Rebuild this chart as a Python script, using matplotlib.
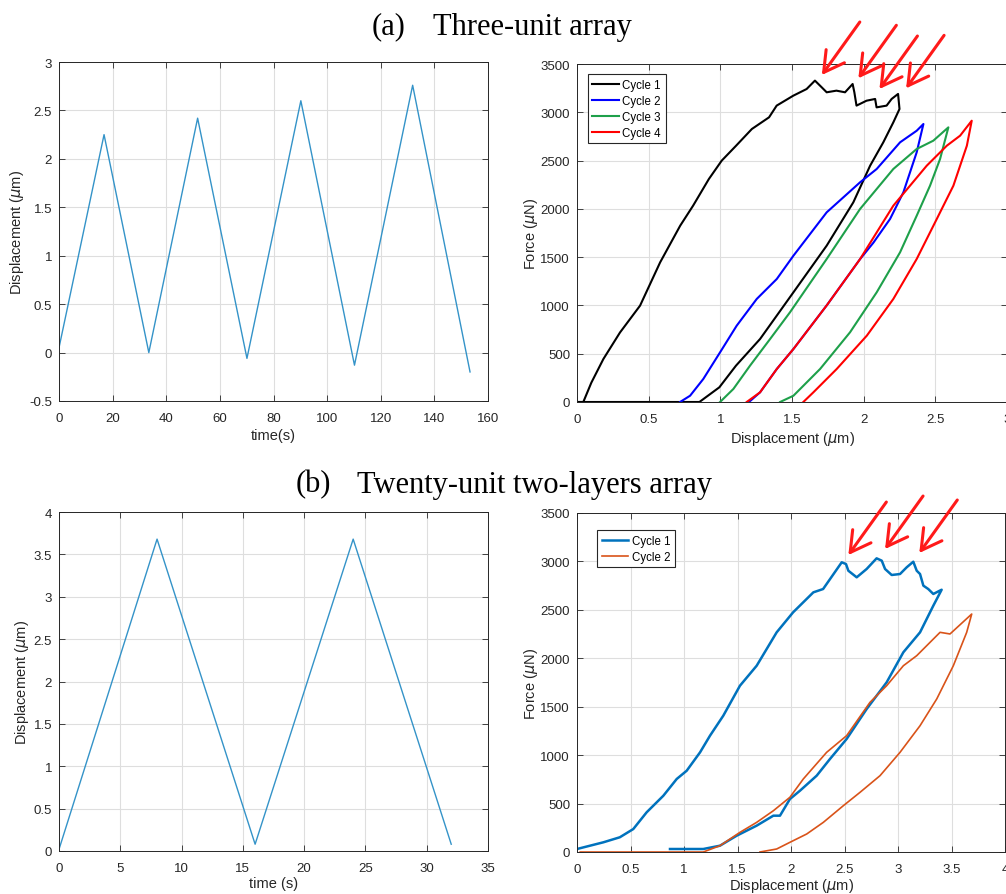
import matplotlib.pyplot as plt

# -----------------------------
# Data
# -----------------------------
# (a) displacement history, three-unit array
t_a = [0, 16.8, 33.5, 51.7, 70.1, 90.2, 110.2, 131.9, 153.3]
d_a = [0.05, 2.25, 0.0, 2.42, -0.06, 2.60, -0.13, 2.76, -0.20]

# (a) force-displacement loops
a_c1_x = [0.0, 0.044, 0.10, 0.184, 0.30, 0.44, 0.58, 0.72, 0.81, 0.92, 1.01, 1.11,
          1.22, 1.34, 1.393, 1.509, 1.602, 1.66, 1.707, 1.742, 1.81, 1.87, 1.923,
          1.935, 1.95, 2.02, 2.08, 2.09, 2.16, 2.195, 2.24, 2.25,
          2.207, 2.137, 2.045, 1.928, 1.742, 1.51, 1.277, 1.109, 0.993, 0.854, 0.40, 0.0]
a_c1_f = [0, 0, 200, 445, 720, 998, 1446, 1826, 2033, 2309, 2500, 2654,
          2827, 2948, 3069, 3172, 3241, 3328, 3259, 3207, 3224, 3207, 3293,
          3207, 3069, 3120, 3138, 3051, 3069, 3138, 3190, 3034,
          2896, 2689, 2447, 2068, 1619, 1136, 652, 376, 152, 0, 0, 0]

a_c2_x = [0.719, 0.789, 0.881, 0.998, 1.114, 1.254, 1.394, 1.51, 1.742, 1.975, 2.091,
          2.254, 2.37, 2.417,
          2.37, 2.277, 2.184, 2.068, 1.975, 1.742, 1.51, 1.394, 1.277, 1.20]
a_c2_f = [0, 65, 238, 514, 790, 1067, 1274, 1515, 1964, 2275, 2413,
          2689, 2809, 2879,
          2586, 2171, 1895, 1650, 1480, 1000, 549, 342, 100, 0]

a_c3_x = [0.998, 1.091, 1.207, 1.347, 1.486, 1.742, 1.975, 2.207, 2.37, 2.486, 2.591,
          2.533, 2.463, 2.37, 2.254, 2.091, 1.905, 1.696, 1.51, 1.417]
a_c3_f = [0, 135, 376, 652, 929, 1481, 1999, 2413, 2620, 2706, 2844,
          2516, 2240, 1929, 1550, 1136, 722, 342, 65, 0]

a_c4_x = [1.184, 1.277, 1.394, 1.51, 1.742, 1.975, 2.207, 2.44, 2.58, 2.673, 2.754,
          2.72, 2.626, 2.51, 2.37, 2.207, 2.022, 1.812, 1.649, 1.579]
a_c4_f = [0, 100, 342, 549, 1000, 1480, 2033, 2447, 2654, 2758, 2913,
          2654, 2240, 1895, 1481, 1067, 687, 342, 100, 0]

# arrow tips on the cycle 1 load drops, panel (a)
a_arrow_x = [1.708, 1.963, 2.110, 2.296]
a_arrow_f = [3386, 3352, 3241, 3248]

# (b) displacement history, twenty-unit two-layers array
t_b = [0, 8, 16, 24, 32]
d_b = [0.02, 3.68, 0.08, 3.68, 0.08]

# (b) force-displacement loops
b_c1_x = [0.0, 0.246, 0.40, 0.526, 0.651, 0.807, 0.932, 1.025, 1.15, 1.243, 1.367,
          1.523, 1.679, 1.866, 2.02, 2.209, 2.30, 2.474, 2.514, 2.536, 2.614, 2.707,
          2.80, 2.848, 2.879, 2.941, 3.019, 3.081, 3.143, 3.175, 3.206, 3.237, 3.283,
          3.33, 3.408,
          3.33, 3.206, 3.05, 2.894, 2.707, 2.52, 2.364, 2.24, 2.084, 1.99, 1.897,
          1.835, 1.679, 1.492, 1.336, 1.18, 0.869]
b_c1_f = [31, 100, 152, 237, 410, 581, 754, 839, 1029, 1201, 1407,
          1717, 1923, 2268, 2475, 2681, 2715, 2991, 2973, 2904, 2836, 2922,
          3032, 3008, 2922, 2860, 2870, 2939, 2997, 2904, 2870, 2750, 2715,
          2664, 2708,
          2543, 2268, 2062, 1752, 1476, 1167, 960, 788, 633, 547, 375,
          375, 272, 168, 65, 31, 31]

b_c2_x = [0.03, 1.18, 1.336, 1.523, 1.679, 1.835, 1.99, 2.115, 2.333, 2.52, 2.738,
          2.894, 3.05, 3.175, 3.393, 3.486, 3.689,
          3.642, 3.517, 3.362, 3.206, 3.019, 2.832, 2.645, 2.489, 2.302, 2.147,
          1.99, 1.866, 1.71]
b_c2_f = [0, 0, 65, 203, 306, 426, 565, 754, 1029, 1201, 1545,
          1717, 1923, 2027, 2268, 2251, 2457,
          2268, 1923, 1580, 1304, 1029, 788, 616, 478, 306, 186,
          100, 31, 0]

# arrow tips on the cycle 1 load drops, panel (b)
b_arrow_x = [2.536, 2.879, 3.199]
b_arrow_f = [3066, 3128, 3087]

# -----------------------------
# Styling
# -----------------------------
plt.rcParams["font.family"] = ["Liberation Sans", "DejaVu Sans"]
TXT = "#262626"
GRID = "#dedede"
W, H = 1006, 895


def matlab_axes(ax, xlim, ylim, xticks, yticks):
    # MATLAB-like box, inward ticks on all sides, light grid
    ax.set_xlim(xlim)
    ax.set_ylim(ylim)
    ax.set_xticks(xticks)
    ax.set_yticks(yticks)
    ax.set_xticklabels([f"{v:g}" for v in xticks])
    ax.set_yticklabels([f"{v:g}" for v in yticks])
    ax.grid(True, color=GRID, linewidth=0.8)
    ax.set_axisbelow(True)
    ax.tick_params(direction="in", top=True, right=True, length=4,
                   width=0.6, colors=TXT, labelsize=9.5)
    ax.tick_params(axis="x", pad=8)
    ax.tick_params(axis="y", pad=5)
    for s in ax.spines.values():
        s.set_color(TXT)
        s.set_linewidth(0.7)


def px_axes(fig, x0, y0, x1, y1):
    # axes placed from pixel box (left, top, right, bottom)
    return fig.add_axes([x0 / W, 1 - y1 / H, (x1 - x0) / W, (y1 - y0) / H])


def add_arrows(ax, xs, fs):
    for x, f in zip(xs, fs):
        ax.annotate("", xy=(x, f), xytext=(38, 53), textcoords="offset pixels",
                    annotation_clip=False,
                    arrowprops=dict(arrowstyle="->, head_length=0.8, head_width=0.45",
                                    color="#ff1a1a", lw=2.2, mutation_scale=18,
                                    shrinkA=0, shrinkB=0))


def cycle_legend(ax, anchor):
    leg = ax.legend(loc="upper left", bbox_to_anchor=anchor, borderaxespad=0,
                    fontsize=8.3, handlelength=2.3, fancybox=False, framealpha=1,
                    edgecolor=TXT, labelspacing=0.35, handletextpad=0.3,
                    borderpad=0.4)
    leg.get_frame().set_linewidth(0.8)


fig = plt.figure(figsize=(W / 100, H / 100), dpi=100)

serif = ["Liberation Serif", "DejaVu Serif"]
fig.text(372 / W, 1 - 27 / H, "(a)", family=serif, fontsize=22, va="center", ha="left")
fig.text(433 / W, 1 - 27 / H, "Three-unit array", family=serif, fontsize=22,
         va="center", ha="left")
fig.text(296 / W, 1 - 485 / H, "(b)", family=serif, fontsize=22, va="center", ha="left")
fig.text(357 / W, 1 - 485 / H, "Twenty-unit two-layers array", family=serif,
         fontsize=22, va="center", ha="left")

label_kw = dict(fontsize=10.5, color=TXT)

# (a) left: displacement vs time
ax = px_axes(fig, 59, 63, 488, 402)
ax.plot(t_a, d_a, color="#3493c8", lw=1.0)
matlab_axes(ax, (0, 160), (-0.5, 3), list(range(0, 161, 20)),
            [-0.5, 0, 0.5, 1, 1.5, 2, 2.5, 3])
ax.set_xlabel("time(s)", labelpad=3, **label_kw)
ax.set_ylabel(r"Displacement ($\mu$m)", labelpad=2, **label_kw)

# (a) right: force vs displacement
ax = px_axes(fig, 577, 65, 1007, 403)
ax.plot(a_c1_x, a_c1_f, color="black", lw=1.5, label="Cycle 1")
ax.plot(a_c2_x, a_c2_f, color="#0000ff", lw=1.5, label="Cycle 2")
ax.plot(a_c3_x, a_c3_f, color="#1ea04a", lw=1.5, label="Cycle 3")
ax.plot(a_c4_x, a_c4_f, color="#ff0000", lw=1.5, label="Cycle 4")
matlab_axes(ax, (0, 3), (0, 3500), [0, 0.5, 1, 1.5, 2, 2.5, 3],
            list(range(0, 3501, 500)))
ax.set_xlabel(r"Displacement ($\mu$m)", labelpad=3, **label_kw)
ax.set_ylabel(r"Force ($\mu$N)", labelpad=0.5, **label_kw)
cycle_legend(ax, (0.025, 0.97))
add_arrows(ax, a_arrow_x, a_arrow_f)

# (b) left: displacement vs time
ax = px_axes(fig, 59, 513, 488, 852)
ax.plot(t_b, d_b, color="#3493c8", lw=1.0)
matlab_axes(ax, (0, 35), (0, 4), list(range(0, 36, 5)),
            [0, 0.5, 1, 1.5, 2, 2.5, 3, 3.5, 4])
ax.set_xlabel("time (s)", labelpad=1.5, **label_kw)
ax.set_ylabel(r"Displacement ($\mu$m)", labelpad=2, **label_kw)

# (b) right: force vs displacement
ax = px_axes(fig, 577, 514, 1005, 853)
ax.plot(b_c1_x, b_c1_f, color="#0072bd", lw=1.8, label="Cycle 1")
ax.plot(b_c2_x, b_c2_f, color="#d95319", lw=1.2, label="Cycle 2")
matlab_axes(ax, (0, 4), (0, 3500), [0, 0.5, 1, 1.5, 2, 2.5, 3, 3.5, 4],
            list(range(0, 3501, 500)))
ax.set_xlabel(r"Displacement ($\mu$m)", labelpad=1, **label_kw)
ax.set_ylabel(r"Force ($\mu$N)", labelpad=0.5, **label_kw)
cycle_legend(ax, (0.047, 0.95))
add_arrows(ax, b_arrow_x, b_arrow_f)

plt.savefig("out.png", dpi=100)
